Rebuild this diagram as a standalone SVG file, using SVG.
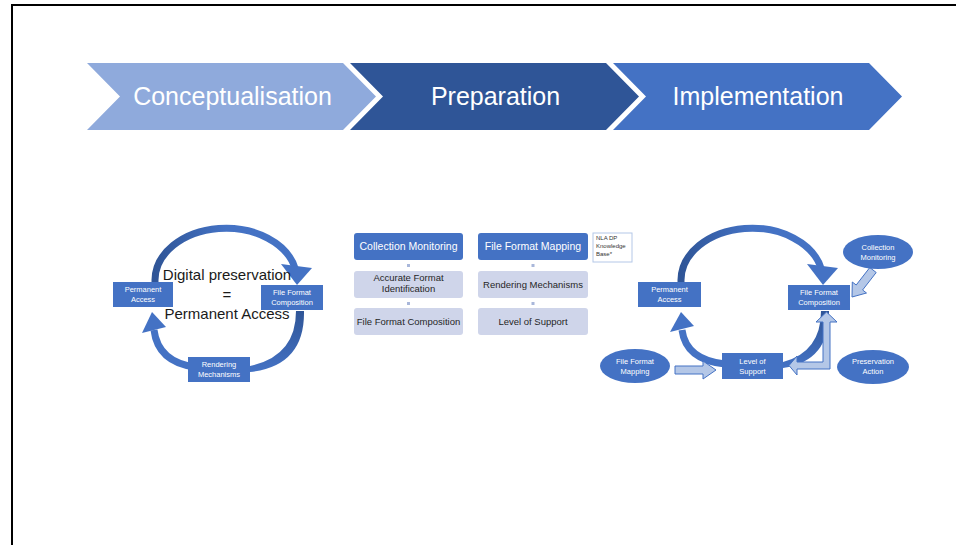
<svg xmlns="http://www.w3.org/2000/svg" width="956" height="545" viewBox="0 0 956 545">
<style>
text{font-family:"Liberation Sans",Arial,sans-serif}
.chev{font-size:25px;fill:#fff;text-anchor:middle}
.bx{fill:#4472C4}
.bt{font-size:7.5px;fill:#fff;text-anchor:middle}
.dk{fill:#4472C4}
.lt{fill:#CFD5EA}
.dt{font-size:10.5px;fill:#fff;text-anchor:middle}
.ltt{font-size:9.5px;fill:#262626;text-anchor:middle}
.dot{fill:#A9B7DA}
.arc{fill:none;stroke:url(#arcGrad);stroke-width:7}
.arcs{fill:none;stroke:#4472C4;stroke-width:7}
.head{fill:#4472C4}
.blk{fill:#B4C7E7;stroke:#4472C4;stroke-width:1}
.big{font-size:15px;fill:#1a1a1a;text-anchor:middle}
</style>
<defs>
<linearGradient id="arcGrad" x1="0" y1="0" x2="1" y2="0">
<stop offset="0" stop-color="#2F5597"/>
<stop offset="0.5" stop-color="#4472C4"/>
<stop offset="1" stop-color="#4472C4"/>
</linearGradient>
<linearGradient id="tailGrad" x1="0" y1="0" x2="0" y2="1">
<stop offset="0" stop-color="#2F5597"/>
<stop offset="1" stop-color="#4472C4"/>
</linearGradient>
</defs>
<rect width="956" height="545" fill="#fff"/>
<path d="M12,545 V5 H956" fill="none" stroke="#000" stroke-width="2"/>

<g id="chevron-conceptualisation">
<polygon points="87,63 343,63 376,96.5 343,130 87,130 120,96.5" fill="#8FAADC"/>
<text class="chev" x="232.5" y="105">Conceptualisation</text>
</g>
<g id="chevron-preparation">
<polygon points="350,63 606,63 639,96.5 606,130 350,130 383,96.5" fill="#2F5597"/>
<text class="chev" x="495.5" y="105">Preparation</text>
</g>
<g id="chevron-implementation">
<polygon points="613,63 869,63 902,96.5 869,130 613,130 646,96.5" fill="#4472C4"/>
<text class="chev" x="758" y="105">Implementation</text>
</g>

<g id="connectors">
<!-- left cycle -->
<path class="arc" d="M155,283 L155,280 A71,52 0 0 1 295.4,269.2"/>
<polygon class="head" points="281,264 312,268 297,285"/>
<path class="arcs" d="M154,330 Q158,362 195,367"/>
<polygon class="head" points="142,333 166,327 152,312"/>
<path d="M304,311 Q305,366 250,372 L250,366 Q296,356 296,311 Z" fill="url(#tailGrad)"/>
<!-- right cycle -->
<path class="arc" d="M681,283 L681,280 A71,52 0 0 1 821.4,269.2"/>
<polygon class="head" points="807,264 838,268 823,285"/>
<path class="arcs" d="M682,330 Q686,360 725,364"/>
<polygon class="head" points="670,332 694,326 681,312"/>
<path d="M829,311 Q830,361 783,368 L783,362 Q821,352 821,311 Z" fill="url(#tailGrad)"/>
<!-- middle dots -->
<rect class="dot" x="407" y="264" width="3" height="3"/>
<rect class="dot" x="407" y="302" width="3" height="3"/>
<rect class="dot" x="531.5" y="264" width="3" height="3"/>
<rect class="dot" x="531.5" y="302" width="3" height="3"/>
<!-- block arrows -->
<polygon class="blk" points="876.2,272.5 862.6,290 866.5,293 852,297 852.3,282 856.2,285 869.8,267.5"/>
<polygon class="blk" points="675,366 703,366 703,361 716,370 703,379 703,374 675,374"/>
<polygon class="blk" points="826.5,312 837,322 830,322 830,369 797,369 797,375 789,365.5 797,356 797,362 823,362 823,322 816,322"/>
</g>

<g id="l-permanent-access">
<rect class="bx" x="113" y="282" width="60" height="25"/>
<text class="bt" x="143" y="292">Permanent</text>
<text class="bt" x="143" y="302">Access</text>
</g>
<g id="l-file-format-composition">
<rect class="bx" x="261" y="285" width="62" height="25"/>
<text class="bt" x="292" y="295">File Format</text>
<text class="bt" x="292" y="305">Composition</text>
</g>
<g id="l-rendering-mechanisms">
<rect class="bx" x="188" y="357" width="62" height="25"/>
<text class="bt" x="219" y="367">Rendering</text>
<text class="bt" x="219" y="377">Mechanisms</text>
</g>
<g id="center-text">
<text class="big" x="227" y="280">Digital preservation</text>
<text class="big" x="227" y="300">=</text>
<text class="big" x="227" y="319">Permanent Access</text>
</g>

<g id="m-collection-monitoring">
<rect class="dk" x="354" y="233" width="109" height="27" rx="3"/>
<text class="dt" x="408.5" y="250">Collection Monitoring</text>
</g>
<g id="m-accurate-format-identification">
<rect class="lt" x="354" y="271" width="109" height="27" rx="3"/>
<text class="ltt" x="408.5" y="281">Accurate Format</text>
<text class="ltt" x="408.5" y="292">Identification</text>
</g>
<g id="m-file-format-composition">
<rect class="lt" x="354" y="308" width="109" height="27" rx="3"/>
<text class="ltt" x="408.5" y="325">File Format Composition</text>
</g>
<g id="m-file-format-mapping">
<rect class="dk" x="478" y="233" width="110" height="27" rx="3"/>
<text class="dt" x="533" y="250">File Format Mapping</text>
</g>
<g id="m-rendering-mechanisms">
<rect class="lt" x="478" y="271" width="110" height="27" rx="3"/>
<text class="ltt" x="533" y="288">Rendering Mechanisms</text>
</g>
<g id="m-level-of-support">
<rect class="lt" x="478" y="308" width="110" height="27" rx="3"/>
<text class="ltt" x="533" y="325">Level of Support</text>
</g>
<g id="nla-note">
<rect x="593" y="233" width="39" height="29" fill="#fff" stroke="#B4C7E7" stroke-width="1"/>
<text x="596" y="240" font-size="6" fill="#333">NLA DP</text>
<text x="596" y="248" font-size="6" fill="#333">Knowledge</text>
<text x="596" y="256" font-size="6" fill="#333">Base*</text>
</g>

<g id="r-permanent-access">
<rect class="bx" x="638" y="282" width="63" height="25"/>
<text class="bt" x="669.5" y="292">Permanent</text>
<text class="bt" x="669.5" y="302">Access</text>
</g>
<g id="r-file-format-composition">
<rect class="bx" x="788" y="285" width="62" height="25"/>
<text class="bt" x="819" y="295">File Format</text>
<text class="bt" x="819" y="305">Composition</text>
</g>
<g id="r-level-of-support">
<rect class="bx" x="722" y="353" width="61" height="26"/>
<text class="bt" x="752.5" y="364">Level of</text>
<text class="bt" x="752.5" y="374">Support</text>
</g>
<g id="r-collection-monitoring">
<ellipse class="bx" cx="878" cy="252" rx="35" ry="17"/>
<text class="bt" x="878" y="250">Collection</text>
<text class="bt" x="878" y="260">Monitoring</text>
</g>
<g id="r-file-format-mapping">
<ellipse class="bx" cx="635" cy="366" rx="35" ry="17"/>
<text class="bt" x="635" y="364">File Format</text>
<text class="bt" x="635" y="374">Mapping</text>
</g>
<g id="r-preservation-action">
<ellipse class="bx" cx="873" cy="367" rx="36" ry="17"/>
<text class="bt" x="873" y="364">Preservation</text>
<text class="bt" x="873" y="374">Action</text>
</g>
</svg>
